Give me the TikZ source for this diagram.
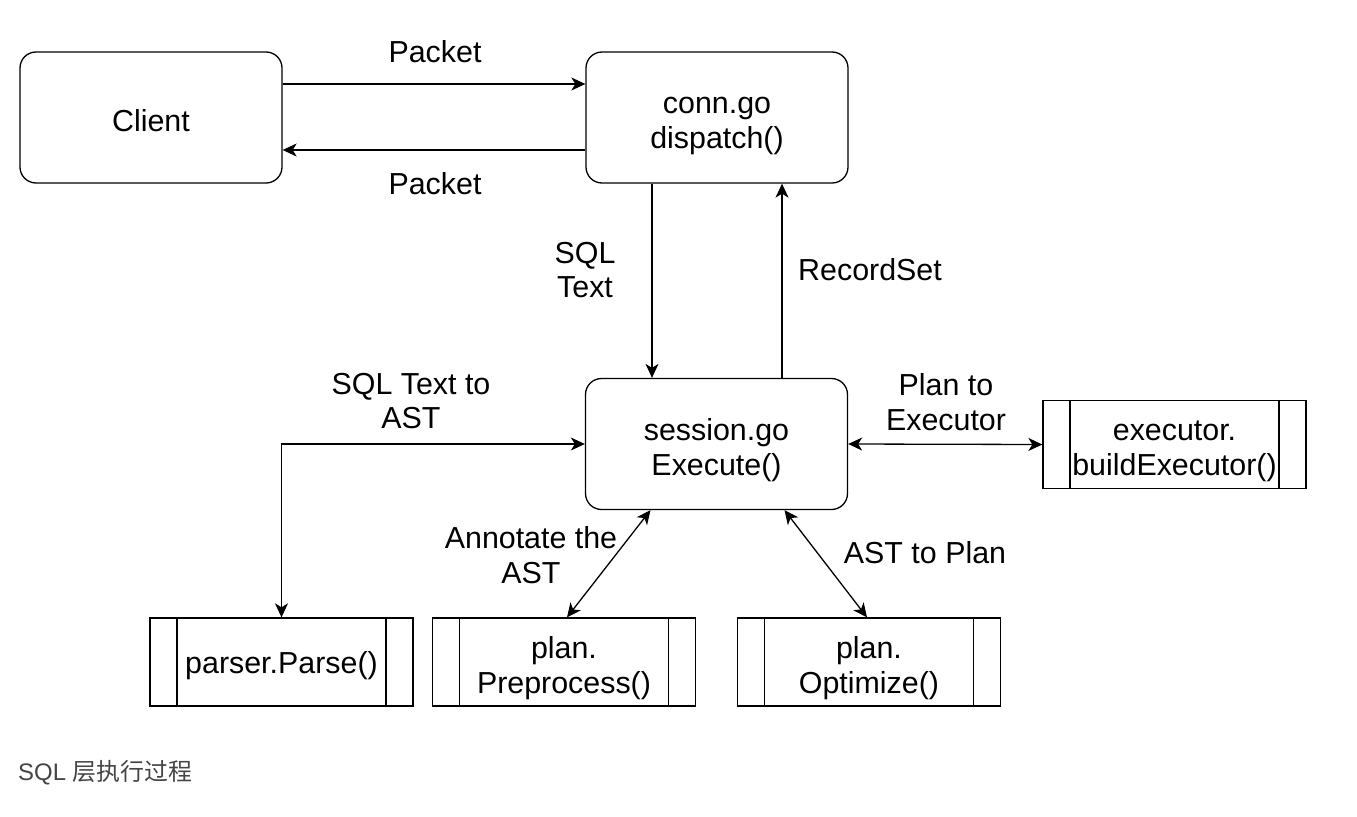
\documentclass[tikz,border=0pt]{standalone}
\usepackage{fontspec}
\setmainfont{Liberation Sans}
\newfontfamily\cjk{Noto Sans CJK SC}
\usetikzlibrary{arrows.meta}
\definecolor{captiongray}{HTML}{444444}
\newcommand\tstrutA{\rule{0pt}{34bp}}
\newcommand\tstrutB{\rule{0pt}{29bp}}
\begin{document}
\begin{tikzpicture}[x=1bp,y=-1bp,
  every node/.style={font=\fontsize{30.5}{35}\selectfont, align=center, inner sep=0pt},
  rbox/.style={draw, line width=1.3bp, rounded corners=16bp, minimum width=262bp, minimum height=131bp},
  subbox/.style={draw, line width=1.3bp, minimum width=263bp, minimum height=88bp,
    path picture={\draw[line width=1.3bp] ([xshift=27bp]path picture bounding box.north west) -- ([xshift=27bp]path picture bounding box.south west);
                  \draw[line width=1.3bp] ([xshift=-27bp]path picture bounding box.north east) -- ([xshift=-27bp]path picture bounding box.south east);}},
  tip/.tip={Stealth[length=14bp, width=13bp, inset=4bp]},
  conn/.style={line width=1.3bp, -tip},
  bconn/.style={line width=1.3bp, tip-tip},
  lbl/.style={}
]
\useasboundingbox (0,0) rectangle (1357,816);

\node[rbox] (client) at (151,117.5) {\tstrutB Client};
\node[rbox] (connn) at (717,117.5) {\tstrutA conn.go\\dispatch()};
\node[rbox] (session) at (716.5,444) {\tstrutA session.go\\Execute()};
\node[subbox] (exec) at (1174.5,444.5) {\tstrutA executor.\\buildExecutor()};
\node[subbox] (parser) at (281.5,662) {\tstrutB parser.Parse()};
\node[subbox] (prep) at (564,662) {\tstrutA plan.\\Preprocess()};
\node[subbox] (opt) at (869,662) {\tstrutA plan.\\Optimize()};

\draw[conn] ([yshift=33.5bp]client.east) -- ([yshift=33.5bp]connn.west);
\draw[conn] ([yshift=-32.5bp]connn.west) -- ([yshift=-32.5bp]client.east);
\draw[conn] ([xshift=-65bp]connn.south) -- ([xshift=-64.5bp]session.north);
\draw[conn] ([xshift=65.5bp]session.north) -- ([xshift=65bp]connn.south);
\draw[bconn] (session.west) -| (parser.north);
\draw[bconn] (session.east) -- (exec.west);
\draw[bconn] ([xshift=-66bp]session.south) -- ([xshift=3bp]prep.north);
\draw[bconn] ([xshift=68bp]session.south) -- ([xshift=-2bp]opt.north);

\node[lbl] (l1) at (435,52) {Packet};
\node[lbl] (l2) at (435,184) {Packet};
\node[lbl] (l3) at (585,270) {SQL\\Text};
\node[lbl] (l4) at (870,270) {RecordSet};
\node[lbl] (l5) at (411,401) {SQL Text to\\AST};
\node[lbl] (l6) at (946,402) {Plan to\\Executor};
\node[lbl] (l7) at (531,555) {Annotate the\\AST};
\node[lbl] (l8) at (925,553) {AST to Plan};

\node[anchor=west, text=captiongray, font=\fontsize{24}{28}\selectfont] (cap) at (18,773) {SQL {\cjk 层执行过程}};
\end{tikzpicture}
\end{document}
